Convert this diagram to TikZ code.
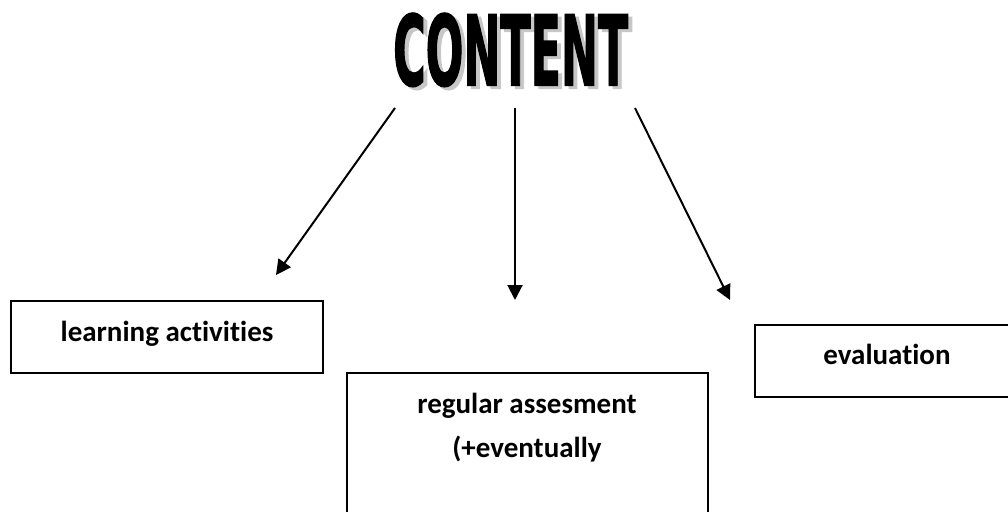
\documentclass[tikz,border=0pt]{standalone}
\usepackage{fontspec}
\setmainfont{Carlito}[Ligatures={NoCommon}]
\newfontfamily\titlefont{DejaVu Sans}[BoldFeatures={FakeBold=2}]
\usetikzlibrary{arrows.meta}
\newcommand{\contentword}{\resizebox{235pt}{72pt}{\titlefont\bfseries CONTENT}}
\begin{document}
\begin{tikzpicture}[x=1pt,y=-1pt,
  box/.style={draw, line width=1.8pt, inner sep=0pt},
  lbl/.style={font=\fontsize{29}{34}\selectfont\bfseries, anchor=base, inner sep=0pt},
  arr/.style={line width=2pt, -{Triangle[length=15pt,width=15pt]}},
  ttl/.style={inner sep=0pt, anchor=north west}]
\useasboundingbox (0,0) rectangle (1008,511);
\begin{scope}
\clip (0,0) rectangle (1008,511);
% title with its gray shadow
\node[ttl] (title) at (393,13) {\rlap{\hspace{4pt}\raisebox{-3pt}{\color{black!22}\contentword}}\contentword};
% boxes
\node[box, minimum width=312pt, minimum height=72pt] (la) at (167,337) {};
\node[box, minimum width=361pt, minimum height=157pt] (ra) at (527.5,451.5) {};
\node[box, minimum width=275pt, minimum height=72pt] (ev) at (892.5,361) {};
% labels
\node[lbl] (lat) at (167,341) {learning activities};
\node[lbl] (rat1) at (527,413) {regular assesment};
\node[lbl] (rat2) at (527,457) {(+eventually};
\node[lbl] (evt) at (887,364) {evaluation};
% arrows
\coordinate (a1s) at (395,108);
\coordinate (a1e) at (276,275);
\coordinate (a2s) at (515,108);
\coordinate (a2e) at (515,300);
\coordinate (a3s) at (635,108);
\coordinate (a3e) at (730,300);
\draw[arr] (a1s) -- (a1e);
\draw[arr] (a2s) -- (a2e);
\draw[arr] (a3s) -- (a3e);
\end{scope}
\end{tikzpicture}
\end{document}
